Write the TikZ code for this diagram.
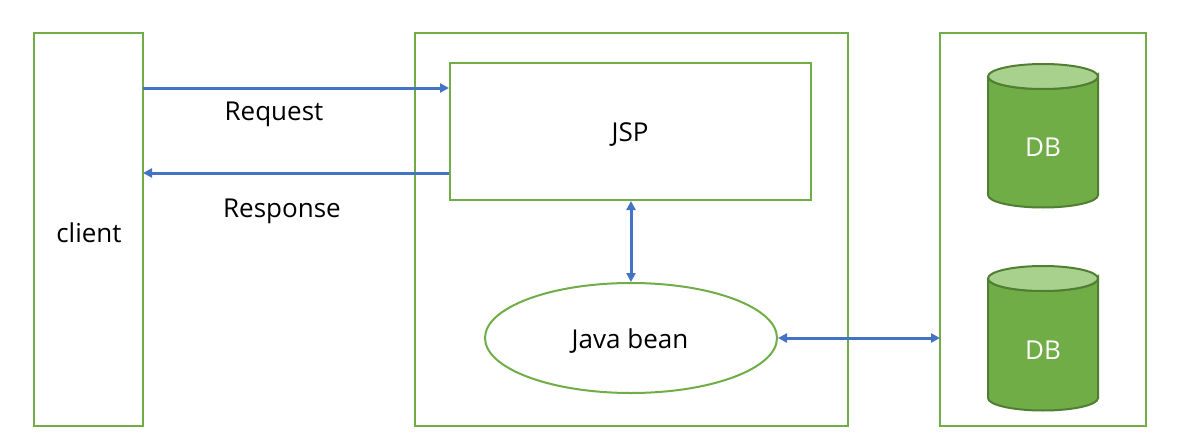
\documentclass[tikz,border=0pt]{standalone}
\usepackage{fontspec}
\setmainfont{Open Sans}
\usetikzlibrary{arrows.meta,shapes.geometric}
\definecolor{gr}{HTML}{70AD47}
\definecolor{grd}{HTML}{507E32}
\definecolor{grl}{HTML}{A9D18E}
\definecolor{bl}{HTML}{4472C4}
\tikzset{
  box/.style={draw=gr,line width=2pt,fill=white},
  conn/.style={draw=bl,line width=3pt,{Triangle[length=9pt,width=9pt]}-{Triangle[length=9pt,width=9pt]}},
  oneway/.style={draw=bl,line width=3pt,-{Triangle[length=9pt,width=9pt]}},
  lbl/.style={font=\fontsize{26}{30}\selectfont,text=black},
  dbtxt/.style={font=\fontsize{26}{30}\selectfont,text=white},
}
\begin{document}
\begin{tikzpicture}[x=1pt,y=-1pt]
\useasboundingbox (0,0) rectangle (1180,444);
% boxes
\draw[box] (34,33) rectangle (143,426);
\node[lbl] (client) at (89,233) {client};
\draw[box] (415,33) rectangle (848,426);
\draw[box] (940,33) rectangle (1146,426);
\coordinate (rbL) at (940,338);
\node[box,minimum width=361pt,minimum height=137pt,inner sep=0pt] (jsp) at (630.5,131.5) {};
\node[lbl] at (630,135) {JSP};
\node[box,ellipse,minimum width=292pt,minimum height=110pt,inner sep=0pt] (bean) at (631,338) {};
\node[lbl] at (630,341) {Java bean};
% cylinders
\foreach \t/\b in {76.5/195,278.5/398}{
  \filldraw[fill=gr,draw=grd,line width=2pt] (988,\t) -- (988,\b) arc[start angle=180,end angle=360,x radius=55,y radius=-12.5] -- (1098,\t) arc[start angle=0,end angle=180,x radius=55,y radius=12.5];
  \filldraw[fill=grl,draw=grd,line width=2pt] (1043,\t) ellipse[x radius=55,y radius=12.5];
}
\node[dbtxt] (db1) at (1043,147) {DB};
\node[dbtxt] (db2) at (1043,350) {DB};
% connectors
\draw[oneway] (143,88) -- (jsp.west |- 0,88);
\draw[oneway] (jsp.west |- 0,173) -- (143,173);
\node[lbl] at (274,114) {Request};
\node[lbl] at (282,211) {Response};
\draw[conn] (jsp.south -| 631,0) -- (bean.north);
\draw[conn] (bean.east) -- (rbL);
\end{tikzpicture}
\end{document}
